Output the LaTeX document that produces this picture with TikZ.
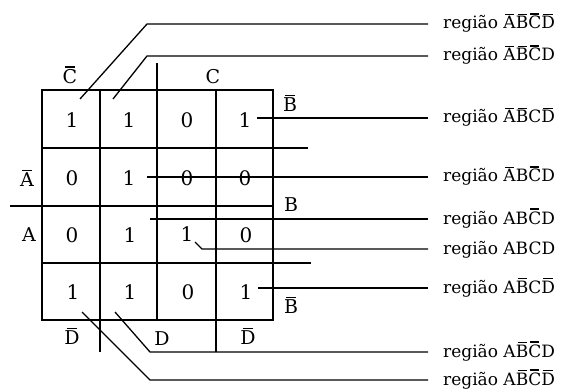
\documentclass[tikz,border=0pt]{standalone}
\usepackage{fontspec}
\setmainfont{DejaVu Serif}
\newcommand\barL[1]{\setbox0\hbox{#1}\makebox[\wd0]{\rule[\dimexpr\ht0+1.6pt\relax]{0.72\wd0}{1.5pt}}\kern-\wd0\box0}
\begin{document}
\begin{tikzpicture}[x=1pt,y=-1pt,
  grid/.style={line width=1.5pt},
  conn/.style={line width=1.3pt},
  val/.style={font=\fontsize{20}{20}\selectfont},
  var/.style={font=\fontsize{19}{19}\selectfont},
  lab/.style={font=\fontsize{17}{17}\selectfont, anchor=base west, inner sep=0pt}]
\useasboundingbox (0,0) rectangle (564,390);
% grid
\draw[grid] (42,90) rectangle (273,320);
\draw[grid] (100,90) -- (100,352);
\draw[grid] (157,63) -- (157,320);
\draw[grid] (216,90) -- (216,352);
\draw[grid] (42,148) -- (308,148);
\draw[grid] (10,206) -- (273,206);
\draw[grid] (42,263) -- (311,263);
% values
\node[val] (c11) at (72,120) {1};
\node[val] (c12) at (129,120) {1};
\node[val] (c13) at (187,120) {0};
\node[val] (c14) at (245,120) {1};
\node[val] (c21) at (72,178) {0};
\node[val] (c22) at (129,178) {1};
\node[val] (c23) at (187,178) {0};
\node[val] (c24) at (245,178) {0};
\node[val] (c31) at (72,235) {0};
\node[val] (c32) at (130,235) {1};
\node[val] (c33) at (187,234) {1};
\node[val] (c34) at (246,235) {0};
\node[val] (c41) at (73,292) {1};
\node[val] (c42) at (130,292) {1};
\node[val] (c43) at (188,292) {0};
\node[val] (c44) at (246,292) {1};
% variable labels
\node[var] (Cb) at (70,75) {\barL{C}};
\node[var] (C) at (213,77) {C};
\node[var] (Bb1) at (290,103) {\barL{B}};
\node[var] (Ab) at (27,178) {\barL{A}};
\node[var] (B) at (291,205) {B};
\node[var] (A) at (29,235) {A};
\node[var] (Bb2) at (291,305) {\barL{B}};
\node[var] (Db1) at (72,336) {\barL{D}};
\node[var] (D) at (162,339) {D};
\node[var] (Db2) at (248,336) {\barL{D}};
% region labels
\node[lab] (r1) at (443,29) {região \barL{A}\barL{B}\barL{C}\barL{D}};
\node[lab] (r2) at (443,61) {região \barL{A}\barL{B}\barL{C}D};
\node[lab] (r3) at (443,123) {região \barL{A}\barL{B}C\barL{D}};
\node[lab] (r4) at (443,182) {região \barL{A}B\barL{C}D};
\node[lab] (r5) at (443,224) {região AB\barL{C}D};
\node[lab] (r6) at (443,254) {região ABCD};
\node[lab] (r7) at (443,293) {região A\barL{B}C\barL{D}};
\node[lab] (r8) at (443,357) {região A\barL{B}\barL{C}D};
\node[lab] (r9) at (443,385) {região A\barL{B}\barL{C}\barL{D}};
\foreach \i in {1,...,9}{\coordinate (e\i) at ([xshift=-15pt,yshift=5pt]r\i.base west);}
% connectors
\coordinate (s1) at (80,99);
\coordinate (s2) at (113,99);
\coordinate (s3) at (257,118);
\coordinate (s4) at (147,177);
\coordinate (s5) at (150,219);
\coordinate (s6) at (195,242);
\coordinate (s7) at (258,288);
\coordinate (s8) at (115,312);
\coordinate (s9) at (82,312);
\draw[conn] (s1) -- (147,24) -- (e1);
\draw[conn] (s2) -- (147,56) -- (e2);
\draw[conn] (s3) -- (e3);
\draw[conn] (s4) -- (e4);
\draw[conn] (s5) -- (e5);
\draw[conn] (s6) -- (202,249) -- (e6);
\draw[conn] (s7) -- (e7);
\draw[conn] (s8) -- (150,352) -- (e8);
\draw[conn] (s9) -- (150,380) -- (e9);
\end{tikzpicture}
\end{document}
